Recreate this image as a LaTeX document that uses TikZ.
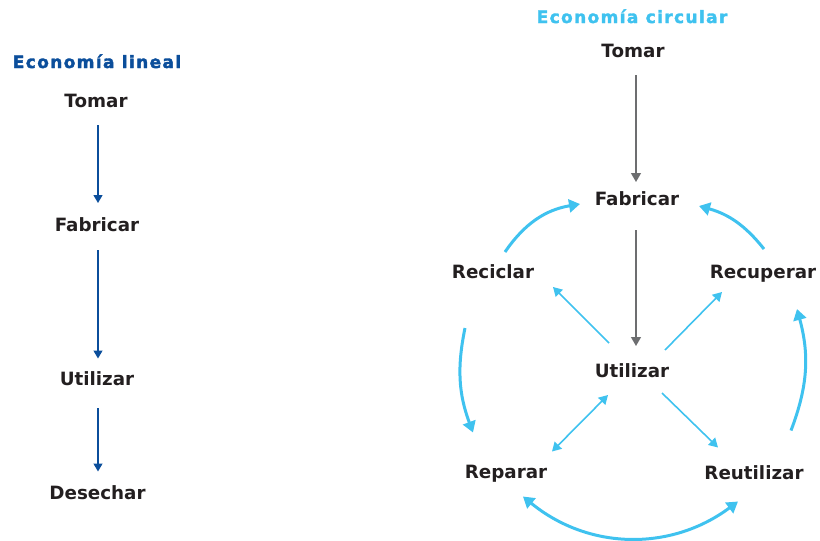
\documentclass[tikz,border=0pt]{standalone}
\usepackage{fontspec}
\setmainfont{DejaVu Sans}
\usetikzlibrary{arrows.meta}
\definecolor{linblue}{HTML}{0B4E9B}
\definecolor{cirblue}{HTML}{3FC2EF}
\definecolor{txtgray}{HTML}{231F20}
\definecolor{arrgray}{HTML}{6D6E70}
\tikzset{
  lbl/.style={anchor=base, text=txtgray, font=\fontsize{18.3}{20}\selectfont\bfseries},
  ttl/.style={anchor=base, font=\fontsize{17}{20}\selectfont\bfseries\addfontfeature{LetterSpace=8,FakeBold=2}},
  linarr/.style={linblue, line width=1.3pt, >={Triangle[width=9pt,length=8pt]}, ->},
  grayarr/.style={arrgray, line width=1.3pt, >={Triangle[width=10pt,length=9pt]}, ->},
  cirarr/.style={cirblue, line width=1.6pt, >={Triangle[width=10pt,length=9pt]}, ->},
  arcarr/.style={cirblue, line width=3pt, >={Triangle[width=13pt,length=11pt]}, ->}
}
\begin{document}
\begin{tikzpicture}[x=1pt, y=-1pt]
\useasboundingbox (0,0) rectangle (820,541);
\node[ttl, text=linblue] (titL) at (97,68) {Economía lineal};
\node[lbl] (tomL) at (96,107.5) {Tomar};
\node[lbl] (fabL) at (97,231) {Fabricar};
\node[lbl] (utiL) at (97,385.5) {Utilizar};
\node[lbl] (desL) at (97.5,499.5) {Desechar};
\draw[linarr] ([shift={(2,17.5)}]tomL.base) -- ([shift={(1,-28)}]fabL.base);
\draw[linarr] ([shift={(1,19)}]fabL.base) -- ([shift={(1,-27)}]utiL.base);
\draw[linarr] ([shift={(1,22.5)}]utiL.base) -- ([shift={(0.5,-28)}]desL.base);

\node[ttl, text=cirblue] (titR) at (632,23) {Economía circular};
\node[lbl] (tomR) at (633,57) {Tomar};
\node[lbl] (fabR) at (637,205) {Fabricar};
\node[lbl] (recic) at (493,278) {Reciclar};
\node[lbl] (recup) at (763,278) {Recuperar};
\node[lbl] (utiR) at (632,377) {Utilizar};
\node[lbl] (repar) at (506,478.5) {Reparar};
\node[lbl] (reuti) at (754,479.5) {Reutilizar};
\draw[grayarr] ([shift={(3,18)}]tomR.base) -- ([shift={(-1,-23)}]fabR.base);
\draw[grayarr] ([shift={(-1,25)}]fabR.base) -- ([shift={(4,-31)}]utiR.base);
\draw[cirarr] ([shift={(-23,-34)}]utiR.base) -- ([shift={(60,9)}]recic.base);
\draw[cirarr] ([shift={(33,-27)}]utiR.base) -- ([shift={(-41,14)}]recup.base);
\draw[cirarr, <->] ([shift={(-24,18)}]utiR.base) -- ([shift={(46,-27)}]repar.base);
\draw[cirarr] ([shift={(30,16)}]utiR.base) -- ([shift={(-36,-32)}]reuti.base);
\draw[arcarr] ([shift={(12,-26)}]recic.base) to[bend left=23] ([shift={(-57,-1)}]fabR.base);
\draw[arcarr] ([shift={(1,-29)}]recup.base) to[bend right=18] ([shift={(62,1)}]fabR.base);
\draw[arcarr] ([shift={(-28,50)}]recic.base) to[bend right=16] ([shift={(-33,-46)}]repar.base);
\draw[arcarr] ([shift={(37,-49)}]reuti.base) to[bend right=18] ([shift={(34,31)}]recup.base);
\draw[arcarr, <->] ([shift={(17,18)}]repar.base) to[bend right=38] ([shift={(-16,22)}]reuti.base);
\end{tikzpicture}
\end{document}
